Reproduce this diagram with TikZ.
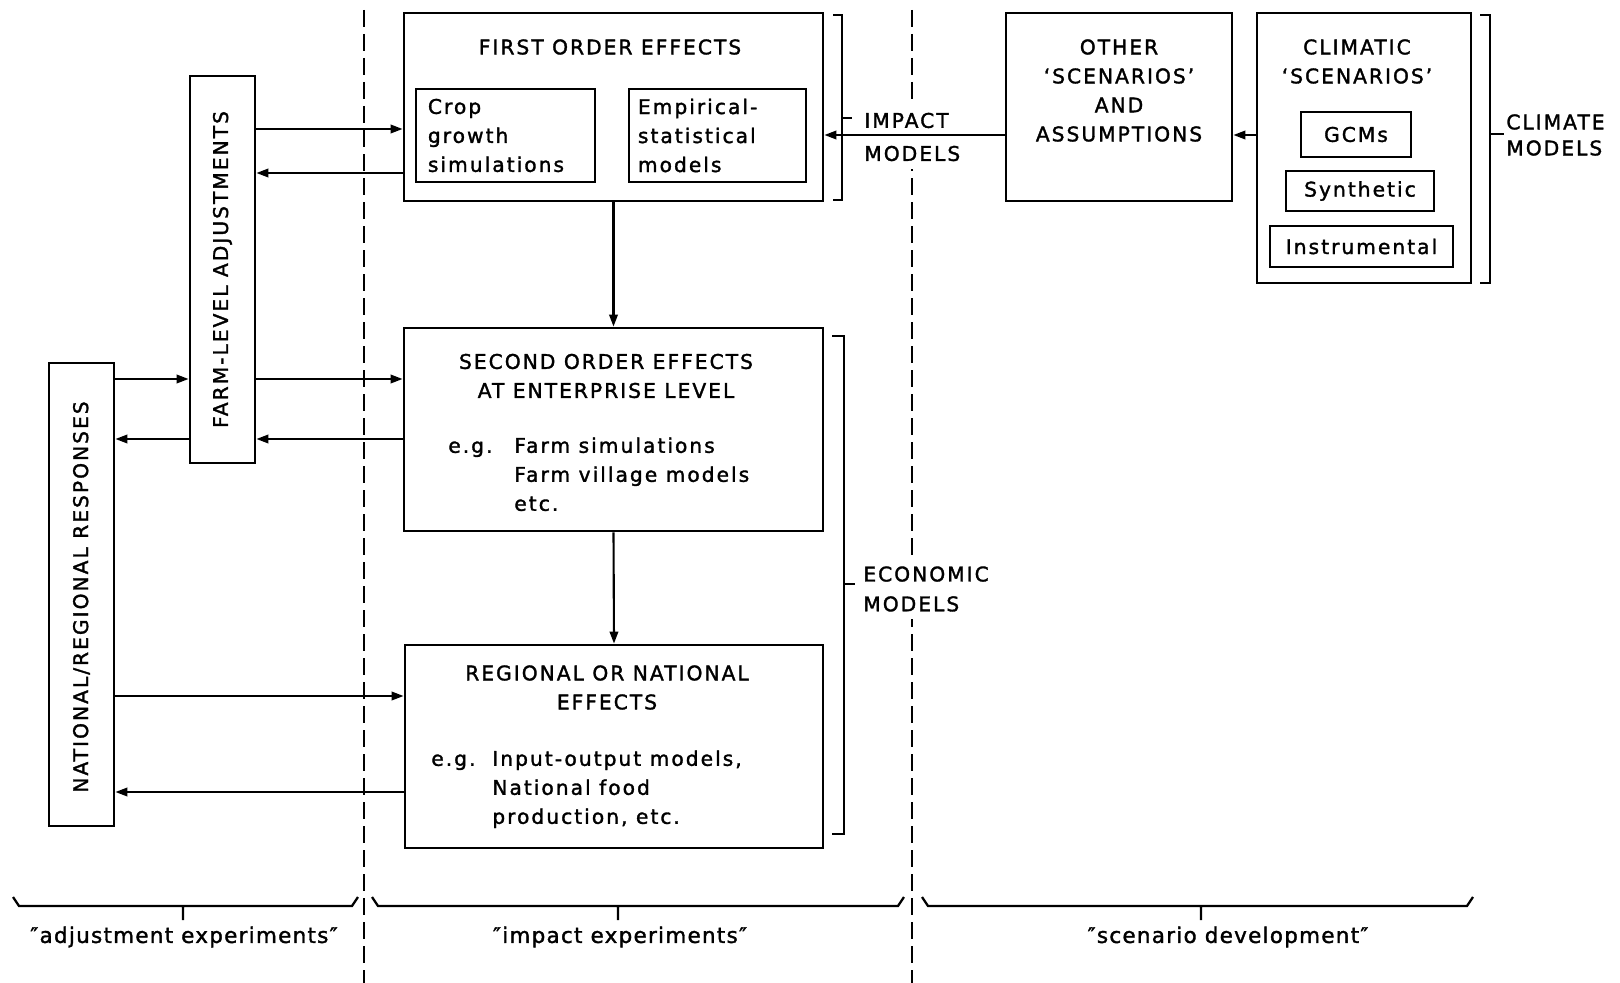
\documentclass[tikz,border=0pt]{standalone}
\usepackage{fontspec}
\setmainfont{DejaVu Sans}[LetterSpace=10, FakeBold=1.6]
\newfontfamily\bracefont{DejaVu Sans}[LetterSpace=6, FakeBold=1.6]
\usetikzlibrary{arrows.meta,positioning}

\tikzset{
  box/.style 2 args={draw, line width=1.6pt, inner sep=0pt,
    minimum width=#1*0.2mm, minimum height=#2*0.2mm,
    font=\fontsize{11.5}{16.5}\selectfont},
  txt/.style={inner sep=0pt, font=\fontsize{11.5}{16.5}\selectfont},
  side/.style={txt, align=left, anchor=west, fill=white, inner sep=1.5mm},
  arr/.style={line width=1.2pt, -{Triangle[length=2.4mm,width=1.7mm]}},
  brk/.style={line width=1.5pt},
  divider/.style={line width=1.4pt, dash pattern=on 3.4mm off 1.4mm},
  under/.style={inner sep=0pt, font=\bracefont\fontsize{12.2}{14}\selectfont},
}

\begin{document}
\begin{tikzpicture}[x=0.2mm, y=-0.2mm]
\useasboundingbox (0,0) rectangle (1620,983);

% dividing lines
\draw[divider] (364,10) -- (364,983);
\draw[divider] (912,10) -- (912,983);

% impact models
\node[box={419}{188}] (first) at (613.5,107) {};
\node[txt] (firsttitle) at (610,47) {FIRST ORDER EFFECTS};
\node[box={179}{93}] (crop) at (505.5,135.5) {};
\node[txt, align=left, right=2.6mm of crop.west] (croptxt) {Crop\\growth\\simulations};
\node[box={177}{93}] (empir) at (717.5,135.5) {};
\node[txt, align=left, right=2mm of empir.west] (empirtxt) {Empirical-\\statistical\\models};

% scenarios
\node[box={226}{188}] (other) at (1119,107) {};
\node[txt, align=center] (othertxt) at (1119,90.5)
  {OTHER\\`SCENARIOS'\\AND\\ASSUMPTIONS};
\node[box={214}{270}] (climatic) at (1364,148) {};
\node[txt, align=center] (climtxt) at (1357,61.5) {CLIMATIC\\`SCENARIOS'};
\node[box={110}{45}] (gcm) at (1356,134.5) {GCMs};
\node[box={148}{40}] (synth) at (1360,191) {Synthetic};
\node[box={183}{41}] (instr) at (1361.5,246.5) {Instrumental};

% economic models
\node[box={419}{203}] (second) at (613.5,429.5) {};
\node[txt, align=center] (secondtxt) at (606,376) {SECOND ORDER EFFECTS\\AT ENTERPRISE LEVEL};
\node[txt, anchor=west] (secondeg) at (448,476) {\begin{tabular}{@{}p{13.2mm}@{}l@{}}
  e.g. & Farm simulations\\ & Farm village models\\ & etc.\end{tabular}};
\node[box={418}{203}] (regional) at (614,746.5) {};
\node[txt, align=center] (regionaltxt) at (607,687.5) {REGIONAL OR NATIONAL\\EFFECTS};
\node[txt, anchor=west] (regionaleg) at (431,789) {\begin{tabular}{@{}p{12.2mm}@{}l@{}}
  e.g. & Input-output models,\\ & National food\\ & production, etc.\end{tabular}};

% adjustments
\node[box={65}{387}] (farm) at (222.5,269.5) {};
\node[txt, rotate=90] (farmtxt) at (farm) {FARM-LEVEL ADJUSTMENTS};
\node[box={65}{463}] (natl) at (81.5,594.5) {};
\node[txt, rotate=90] (natltxt) at (81.5,597) {NATIONAL/REGIONAL RESPONSES};

% brackets
\draw[brk] (833,15) -- (842,15) -- (842,200) -- (833,200) (842,118) -- (852,118);
\draw[brk] (832,336) -- (844,336) -- (844,834) -- (832,834) (844,584) -- (855,584);
\draw[brk] (1480,15) -- (1490,15) -- (1490,283) -- (1480,283) (1490,134) -- (1504,134);
\node[side, font=\fontsize{11.5}{18.8}\selectfont] (impactlbl) at (856.5,137) {IMPACT\\MODELS};
\node[side, font=\fontsize{11.5}{17}\selectfont] (econlbl) at (855.5,589) {ECONOMIC\\MODELS};
\node[txt, align=left, anchor=west, font=\fontsize{11.5}{14.8}\selectfont] (climlbl) at (1506,135) {CLIMATE\\MODELS};

% levels of the arrows
\coordinate (lvA) at (0,129);
\coordinate (lvB) at (0,173);
\coordinate (lvC) at (0,379);
\coordinate (lvD) at (0,439);
\coordinate (lvE) at (0,696);
\coordinate (lvF) at (0,792);
\coordinate (lvG) at (0,135);

\draw[arr] (farm.east |- lvA) -- (first.west |- lvA);
\draw[arr] (first.west |- lvB) -- (farm.east |- lvB);
\draw[arr] (natl.east |- lvC) -- (farm.west |- lvC);
\draw[arr] (farm.east |- lvC) -- (second.west |- lvC);
\draw[arr] (farm.west |- lvD) -- (natl.east |- lvD);
\draw[arr] (second.west |- lvD) -- (farm.east |- lvD);
\draw[arr] (natl.east |- lvE) -- (regional.west |- lvE);
\draw[arr] (regional.west |- lvF) -- (natl.east |- lvF);
\draw[arr] (other.west |- lvG) -- (first.east |- lvG);
\draw[arr] (climatic.west |- lvG) -- (other.east |- lvG);
\draw[arr] (first.south) -- (second.north);
\draw[arr] (second.south) -- (regional.north);

% braces below
\foreach \l/\r/\m in {13/358/183, 372/904/618, 922/1473/1201}
  \draw[line width=1.3pt] (\l,897) -- (\l+6,906) -- (\r-6,906) -- (\r,897)
    (\m,906) -- (\m,920);
\node[under] (adjlbl) at (184,937) {″adjustment experiments″};
\node[under] (implbl) at (620,937) {″impact experiments″};
\node[under] (scenlbl) at (1228,937) {″scenario development″};
\end{tikzpicture}
\end{document}
